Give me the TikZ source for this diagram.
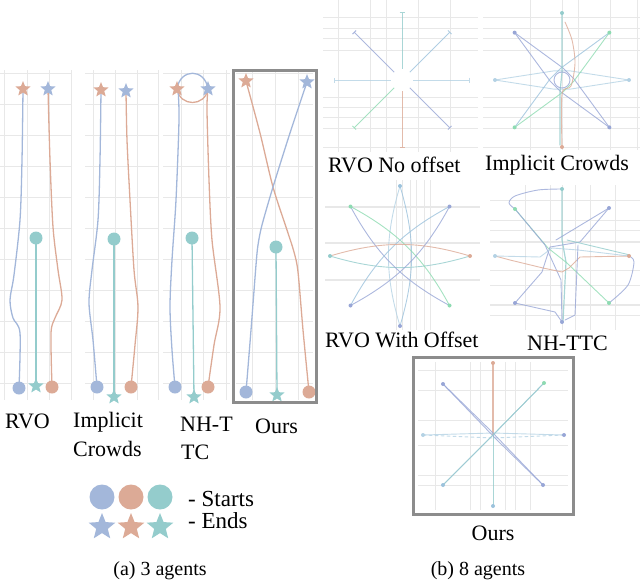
\documentclass[tikz,border=0pt]{standalone}
\usepackage{fontspec}
\setmainfont{Liberation Serif}
\usetikzlibrary{shapes.geometric,arrows.meta,calc}
\definecolor{cblue}{HTML}{A3B7DA}
\definecolor{corange}{HTML}{DCAA96}
\definecolor{cteal}{HTML}{94CCCC}
\definecolor{lblue}{HTML}{B4D2E4}
\definecolor{pblue}{HTML}{98A6D6}
\definecolor{sblue}{HTML}{9CC2DC}
\definecolor{cgreen}{HTML}{8EDBB2}
\definecolor{gridc}{HTML}{E8E8E8}
\definecolor{boxc}{HTML}{8C8C8C}
\tikzset{
  lbl/.style={font=\fontsize{22}{26}\selectfont, anchor=base west, inner sep=0},
  captext/.style={font=\fontsize{20}{24}\selectfont, anchor=base, inner sep=0},
  traj/.style={line width=1.3pt, line join=round, line cap=round},
  thin traj/.style={line width=0.9pt, line join=round, line cap=round, draw opacity=0.8},
  gridl/.style={draw=gridc, line width=0.8pt},
  startdot/.style={circle, fill=#1, minimum size=13pt, inner sep=0},
  goalstar/.style={star, star points=5, star point ratio=2.3, fill=#1, minimum size=16pt, inner sep=0},
  bigdot/.style={circle, fill=#1, minimum size=25pt, inner sep=0},
  bigstar/.style={star, star points=5, star point ratio=2.3, fill=#1, minimum size=28pt, inner sep=0},
  tinydot/.style={circle, fill=#1, minimum size=4pt, inner sep=0},
  frame/.style={draw=boxc, line width=3pt},
  ray/.style={line width=1pt, draw opacity=0.8},
}
\begin{document}
\begin{tikzpicture}[x=1pt,y=-1pt]
\useasboundingbox (0,0) rectangle (640,584);

% ================= (a) 3 agents =================
\foreach \x in {4,27,49,71} \draw[gridl] (\x,70) -- (\x,400);
\foreach \x in {93,115,137,158} \draw[gridl] (\x,70) -- (\x,400);
\foreach \x in {181,203,226} \draw[gridl] (\x,70) -- (\x,400);
\foreach \x in {252,275,298} \draw[gridl] (\x,72) -- (\x,400);
\foreach \y in {73,104,135,166,197,228,259,290,321,352,383} {
  \draw[gridl] (0,\y) -- (72,\y);
  \draw[gridl] (85,\y) -- (158,\y);
  \draw[gridl] (163,\y) -- (230,\y);
  \draw[gridl] (236,\y) -- (313,\y);
}

% RVO
\draw[traj,cblue] plot[smooth] coordinates {(19,388) (20,333) (13,318) (10,300) (14,275) (20,220) (22,160) (23,89)};
\draw[traj,corange] plot[smooth] coordinates {(52,387) (51,333) (55,318) (62,300) (58,270) (53,227) (50,160) (48,89)};
\draw[traj,cteal,line width=2pt] (36,238) -- (36,386);
\node[goalstar=corange] (rvoOs) at (23,89) {};
\node[goalstar=cblue] (rvoBs) at (48,89) {};
\node[startdot=cteal] (rvoTc) at (36,238) {};
\node[goalstar=cteal] (rvoTs) at (36,386) {};
\node[startdot=cblue] (rvoBc) at (19,388) {};
\node[startdot=corange] (rvoOc) at (52,387) {};

% Implicit Crowds
\draw[traj,cblue] plot[smooth] coordinates {(97,387) (93,340) (89,303) (92,270) (98,220) (100,160) (101,90)};
\draw[traj,corange] plot[smooth] coordinates {(131,387) (135,345) (138,307) (134,270) (130,200) (127,140) (126,91)};
\draw[traj,cteal,line width=2pt] (114,239) -- (114,397);
\node[goalstar=corange] (icOs) at (101,90) {};
\node[goalstar=cblue] (icBs) at (126,91) {};
\node[startdot=cteal] (icTc) at (114,239) {};
\node[goalstar=cteal] (icTs) at (114,397) {};
\node[startdot=cblue] (icBc) at (97,387) {};
\node[startdot=corange] (icOc) at (131,387) {};

% NH-TTC
\draw[traj,cblue] (177,89) .. controls (180,68) and (205,68) .. (208,89);
\draw[traj,corange] (208,89) .. controls (205,107) and (180,107) .. (177,89);
\draw[traj,cblue] plot[smooth] coordinates {(178,89) (179,120) (176,200) (172,260) (170,307) (172,350) (175,387)};
\draw[traj,corange] plot[smooth] coordinates {(208,89) (207,110) (209,180) (212,240) (220,307) (214,345) (208,387)};
\draw[traj,cteal] (192,238) -- (194,397);
\node[goalstar=corange] (nhOs) at (177,89) {};
\node[goalstar=cblue] (nhBs) at (208,89) {};
\node[startdot=cteal] (nhTc) at (192,238) {};
\node[goalstar=cteal] (nhTs) at (194,397) {};
\node[startdot=cblue] (nhBc) at (175,387) {};
\node[startdot=corange] (nhOc) at (208,387) {};

% Ours
\draw[traj,corange] plot[smooth] coordinates {(246,81) (260,133) (273,187) (287,230) (294,252) (298,272) (303,330) (309,392)};
\draw[traj,cblue] plot[smooth] coordinates {(307,82) (290,133) (273,187) (262,225) (258,245) (256,265) (251,330) (246,392)};
\draw[traj,cteal] (276,247) -- (277,395);
\node[goalstar=corange] (oOs) at (246,81) {};
\node[goalstar=cblue] (oBs) at (307,82) {};
\node[startdot=cteal] (oTc) at (276,247) {};
\node[goalstar=cteal] (oTs) at (277,395) {};
\node[startdot=cblue] (oBc) at (246,392) {};
\node[startdot=corange] (oOc) at (309,392) {};
\draw[frame] (233,70) rectangle (316,402);

% labels
\node[lbl] (lRVO) at (5,428) {RVO};
\node[lbl] (lIC1) at (73,427) {Implicit};
\node[lbl] (lIC2) at (73,456) {Crowds};
\node[lbl] (lNH1) at (180,431) {NH-T};
\node[lbl] (lNH2) at (181,459) {TC};
\node[lbl] (lOurs) at (255,433) {Ours};

% legend
\node[bigdot=cblue] (lgBc) at (102,497) {};
\node[bigdot=corange] (lgOc) at (131,497) {};
\node[bigdot=cteal] (lgTc) at (160,497) {};
\node[bigstar=cblue] (lgBs) at (102,527) {};
\node[bigstar=corange] (lgOs) at (131,527) {};
\node[bigstar=cteal] (lgTs) at (160,527) {};
\node[lbl,font=\fontsize{23}{26}\selectfont] (lgS) at (188,506) {- Starts};
\node[lbl,font=\fontsize{23}{26}\selectfont] (lgE) at (188,528) {- Ends};
\node[captext] (capA) at (160,575) {(a) 3 agents};

% ================= (b) 8 agents =================
\coordinate (C1) at (402,80);
\coordinate (C2) at (562,80);
\coordinate (C3) at (400,256);
\coordinate (C4) at (562,256);
\coordinate (C5) at (493,435);

\foreach \x in {338,370,386,418,450} \draw[gridl] (\x,0) -- (\x,152);
\foreach \y in {17,28,38,50,97,107,117,128,147} \draw[gridl] (323,\y) -- (478,\y);
\foreach \x in {530,562,578,610,637} \draw[gridl] (\x,0) -- (\x,150);
\foreach \y in {17,28,38,50,97,107,117,128,147} \draw[gridl] (483,\y) -- (640,\y);
\foreach \y in {207,243,280} \draw[gridl,line width=1.2pt] (325,\y) -- (480,\y);
\foreach \x in {396,402,410,416,424,430} \draw[gridl] (\x,180) -- (\x,330);
\foreach \y in {242,305} \draw[gridl,line width=1.2pt] (490,\y) -- (640,\y);
\foreach \y in {200,220,230,270,285,315} \draw[gridl] (490,\y) -- (640,\y);
\foreach \x in {525,550,562,575,590,615} \draw[gridl] (\x,185) -- (\x,330);
\foreach \x in {435,470,480,505,515,530} \draw[gridl] (\x,362) -- (\x,510);
\foreach \y in {370,390,420,445,475,485} \draw[gridl] (418,\y) -- (568,\y);

% --- RVO No offset
\foreach \a/\c in {270/cteal,90/corange,180/lblue,0/lblue,225/pblue,315/sblue,135/cgreen,45/pblue}
  \draw[ray,\c,{Bar[width=5pt,line width=1pt]}-] ($(C1)+(\a:68)$) -- ($(C1)+(\a:11)$);
\node[lbl] (l1) at (328,172) {RVO No offset};

% --- Implicit Crowds
\foreach \a/\c in {180/lblue,0/lblue,225/pblue,45/pblue,315/cgreen,135/sblue}
  \draw[thin traj,\c] ($(C2)+(\a:67)$) -- ($(C2)+(\a+50:12)$) -- ($(C2)+(\a+130:12)$) -- ($(C2)+(\a+180:67)$);
\draw[thin traj,cteal,line width=1.2pt] ($(C2)+(270:67)$) -- ($(C2)+(0,-8)$) -- ($(C2)+(-2,12)$) -- ($(C2)+(-2,65)$);
\draw[thin traj,corange] plot[smooth] coordinates {(562,147) (562,94) (571,86) (575,63) (572,40) (565,22)};
\draw[thin traj,pblue] (C2) circle (8);
\foreach \a/\c in {270/cteal,90/corange,180/lblue,0/lblue,225/pblue,315/cgreen,135/cgreen,45/pblue}
  \node[tinydot=\c] at ($(C2)+(\a:67)$) {};
\node[lbl] (l2) at (485,170) {Implicit Crowds};

% --- RVO With Offset
\foreach \a/\c in {270/sblue,90/lblue,0/cteal,225/cgreen,45/pblue,315/pblue,135/sblue}
  \draw[thin traj,\c] ($(C3)+(\a:70)$) .. controls ($(C3)+(\a+40:24)$) and ($(C3)+(\a+140:24)$) .. ($(C3)+(\a+180:70)$);
\draw[thin traj,corange] ($(C3)+(180:70)$) .. controls ($(C3)+(220:24)$) and ($(C3)+(320:24)$) .. ($(C3)+(0:70)$);
\foreach \a/\c in {270/sblue,90/pblue,180/cteal,0/corange,225/cgreen,315/pblue,135/pblue,45/cgreen}
  \node[tinydot=\c] at ($(C3)+(\a:70)$) {};
\node[lbl] (l3) at (325,347) {RVO With Offset};

% --- NH-TTC
\coordinate (T4) at (562,189); \coordinate (NW4) at (515,209);
\coordinate (NE4) at (609,208); \coordinate (L4) at (495,256);
\coordinate (R4) at (629,256); \coordinate (SW4) at (515,303);
\coordinate (SE4) at (609,303); \coordinate (B4) at (562,322);
\draw[thin traj,pblue] plot[smooth] coordinates {(562,189) (538,190) (515,196) (509,203) (515,209)};
\draw[thin traj,cteal,line width=1.2pt] (T4) -- (562,240) -- (566,262) -- (563,322);
\draw[thin traj,cgreen] (NW4) -- (548,248) -- (567,263) -- (SE4);
\draw[thin traj,pblue] (NW4) -- (545,245) -- (561,280) -- (B4);
\draw[thin traj,pblue] (NE4) -- (580,242) -- (550,247) -- (542,272) -- (SW4);
\draw[thin traj,corange] (L4) -- (510,260) -- (543,268) -- (562,272) -- (569,268) -- (580,257) -- (R4);
\draw[thin traj,lblue] (L4) -- (540,257) -- (552,248) -- (578,250) -- (R4);
\draw[thin traj,pblue] plot[smooth] coordinates {(629,256) (634,262) (628,285) (609,303)};
\draw[thin traj,pblue] (SW4) -- (555,312) -- (B4);
\draw[thin traj,pblue] (578,245) -- (575,315) -- (565,320);
\draw[thin traj,cteal] (567,240) -- (630,255);
\draw[thin traj,pblue] (NE4) -- (556,240);
\foreach \p/\c in {T4/cteal,NW4/cgreen,NE4/pblue,L4/lblue,R4/corange,SW4/pblue,SE4/cgreen,B4/pblue}
  \node[tinydot=\c] at (\p) {};
\node[lbl] (l4) at (527,350) {NH-TTC};

% --- Ours (8 agents)
\coordinate (T5) at (493,363); \coordinate (B5) at (493,506);
\coordinate (L5) at (423,435); \coordinate (R5) at (564,435);
\coordinate (NW5) at (443,384); \coordinate (SE5) at (543,485);
\coordinate (NE5) at (544,383); \coordinate (SW5) at (443,485);
\draw[thin traj,corange,line width=1.2pt] (T5) -- (C5);
\draw[thin traj,cteal] (C5) -- (B5);
\draw[thin traj,lblue] (L5) -- (493,433) -- (R5);
\draw[thin traj,lblue,dashed] (L5) -- (493,438) -- (R5);
\draw[thin traj,pblue] (NW5) -- (492,432) -- (SE5);
\draw[thin traj,pblue] (NW5) -- (497,440) -- (SE5);
\draw[thin traj,cgreen] (NE5) -- (491,437) -- (SW5);
\draw[thin traj,sblue] (NE5) -- (494,434) -- (SW5);
\foreach \p/\c in {T5/corange,B5/sblue,L5/lblue,R5/pblue,NW5/pblue,SE5/pblue,NE5/cgreen,SW5/sblue}
  \node[tinydot=\c] at (\p) {};
\draw[frame] (413,357) rectangle (573,514);
\node[lbl,anchor=base] (l5) at (493,540) {Ours};

\node[captext] (capB) at (478,575) {(b) 8 agents};
\end{tikzpicture}
\end{document}
